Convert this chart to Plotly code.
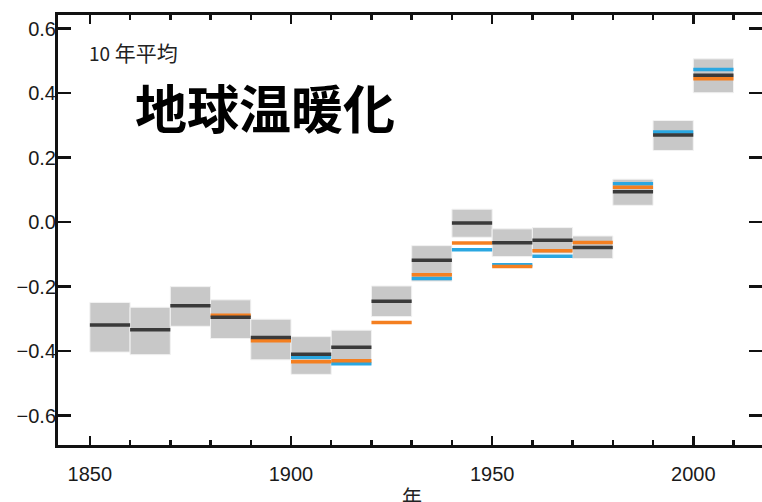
import plotly.graph_objects as go

# decade start years
decades = [1850, 1860, 1870, 1880, 1890, 1900, 1910, 1920, 1930, 1940,
           1950, 1960, 1970, 1980, 1990, 2000]
# black: decadal mean anomaly
black_vals = [-0.319, -0.334, -0.259, -0.295, -0.358, -0.410, -0.388, -0.245,
              -0.118, -0.003, -0.064, -0.056, -0.079, 0.094, 0.270, 0.455]
# gray uncertainty range
low_vals = [-0.403, -0.411, -0.323, -0.361, -0.427, -0.472, -0.441, -0.293,
            -0.183, -0.047, -0.107, -0.097, -0.113, 0.052, 0.222, 0.401]
high_vals = [-0.249, -0.264, -0.200, -0.241, -0.301, -0.355, -0.335, -0.198,
             -0.073, 0.040, -0.021, -0.017, -0.043, 0.133, 0.315, 0.506]
# orange series
orange_vals = [None, None, None, -0.289, -0.368, -0.433, -0.430, -0.311,
               -0.163, -0.065, -0.138, -0.089, -0.063, 0.108, None, 0.444]
# blue series
blue_vals = [None, None, None, None, None, -0.419, -0.439, None,
             -0.175, -0.086, -0.132, -0.106, None, 0.119, 0.279, 0.473]

x_ticks = [1850, 1900, 1950, 2000]
y_ticks = [-0.6, -0.4, -0.2, 0.0, 0.2, 0.4, 0.6]
y_tick_text = ["\u22120.6", "\u22120.4", "\u22120.2", "0.0", "0.2", "0.4", "0.6"]

DECADE = 10


def step_segments(vals):
    xs, ys = [], []
    for d, v in zip(decades, vals):
        if v is None:
            continue
        xs += [d, d + DECADE, None]
        ys += [v, v, None]
    return xs, ys


fig = go.Figure()

fig.add_trace(go.Bar(
    x=[d + DECADE / 2 for d in decades],
    y=[h - l for h, l in zip(high_vals, low_vals)],
    base=low_vals,
    width=DECADE,
    marker=dict(color="#c8c8c8", line=dict(color="#f2f2f2", width=1)),
    showlegend=False, hoverinfo="skip",
))

for vals, col in [(blue_vals, "#2aa7e1"), (orange_vals, "#f47f20"), (black_vals, "#3a3a3a")]:
    xs, ys = step_segments(vals)
    fig.add_trace(go.Scatter(x=xs, y=ys, mode="lines",
                             line=dict(color=col, width=3.5),
                             showlegend=False, hoverinfo="skip"))

font_lat = "Liberation Sans, Arial, sans-serif"
font_cjk = "Noto Sans CJK JP, sans-serif"

fig.update_layout(
    width=765, height=502,
    margin=dict(l=58, r=0, t=15, b=57),
    paper_bgcolor="white", plot_bgcolor="white",
    bargap=0,
    xaxis=dict(
        range=[1842.08, 2017.08],
        tickmode="array", tickvals=x_ticks, ticktext=[str(v) for v in x_ticks],
        ticks="inside", ticklen=9, tickwidth=2.5, tickcolor="#111",
        minor=dict(tickmode="linear", tick0=1850, dtick=10, ticks="inside",
                   ticklen=5, tickwidth=2.5, tickcolor="#111"),
        showline=True, linewidth=3, linecolor="#111", mirror="ticks",
        showgrid=False, zeroline=False, ticklabelstandoff=9,
        tickfont=dict(family=font_lat, size=20, color="#1a1a1a"),
    ),
    yaxis=dict(
        range=[-0.691, 0.642],
        tickmode="array", tickvals=y_ticks, ticktext=y_tick_text,
        ticks="inside", ticklen=13, tickwidth=2.5, tickcolor="#111",
        showline=True, linewidth=3, linecolor="#111", mirror="ticks",
        showgrid=False, zeroline=False, ticklabelstandoff=-5,
        tickfont=dict(family=font_lat, size=20, color="#1a1a1a"),
    ),
    annotations=[
        dict(text="<span style='font-size:19px'>10</span> 年平均", xref="paper", yref="paper",
             x=0.041, y=0.914,
             xanchor="left", yanchor="middle", showarrow=False,
             font=dict(family=font_cjk, size=21, color="#222")),
        dict(text="<b>地球温暖化</b>", xref="paper", yref="paper", x=0.106, y=0.787,
             xanchor="left", yanchor="middle", showarrow=False,
             font=dict(family=font_cjk, size=52, color="#000")),
        dict(text="年", xref="paper", yref="paper", x=0.5035, y=-0.0814,
             xanchor="center", yanchor="top", showarrow=False,
             font=dict(family=font_cjk, size=20, color="#222")),
    ],
)

fig.write_html(
    "out.html",
    config={"displayModeBar": False, "staticPlot": True},
    post_script="document.documentElement.style.overflow='hidden';"
                "document.body.style.overflow='hidden';"
                "document.body.style.margin='0';",
)
